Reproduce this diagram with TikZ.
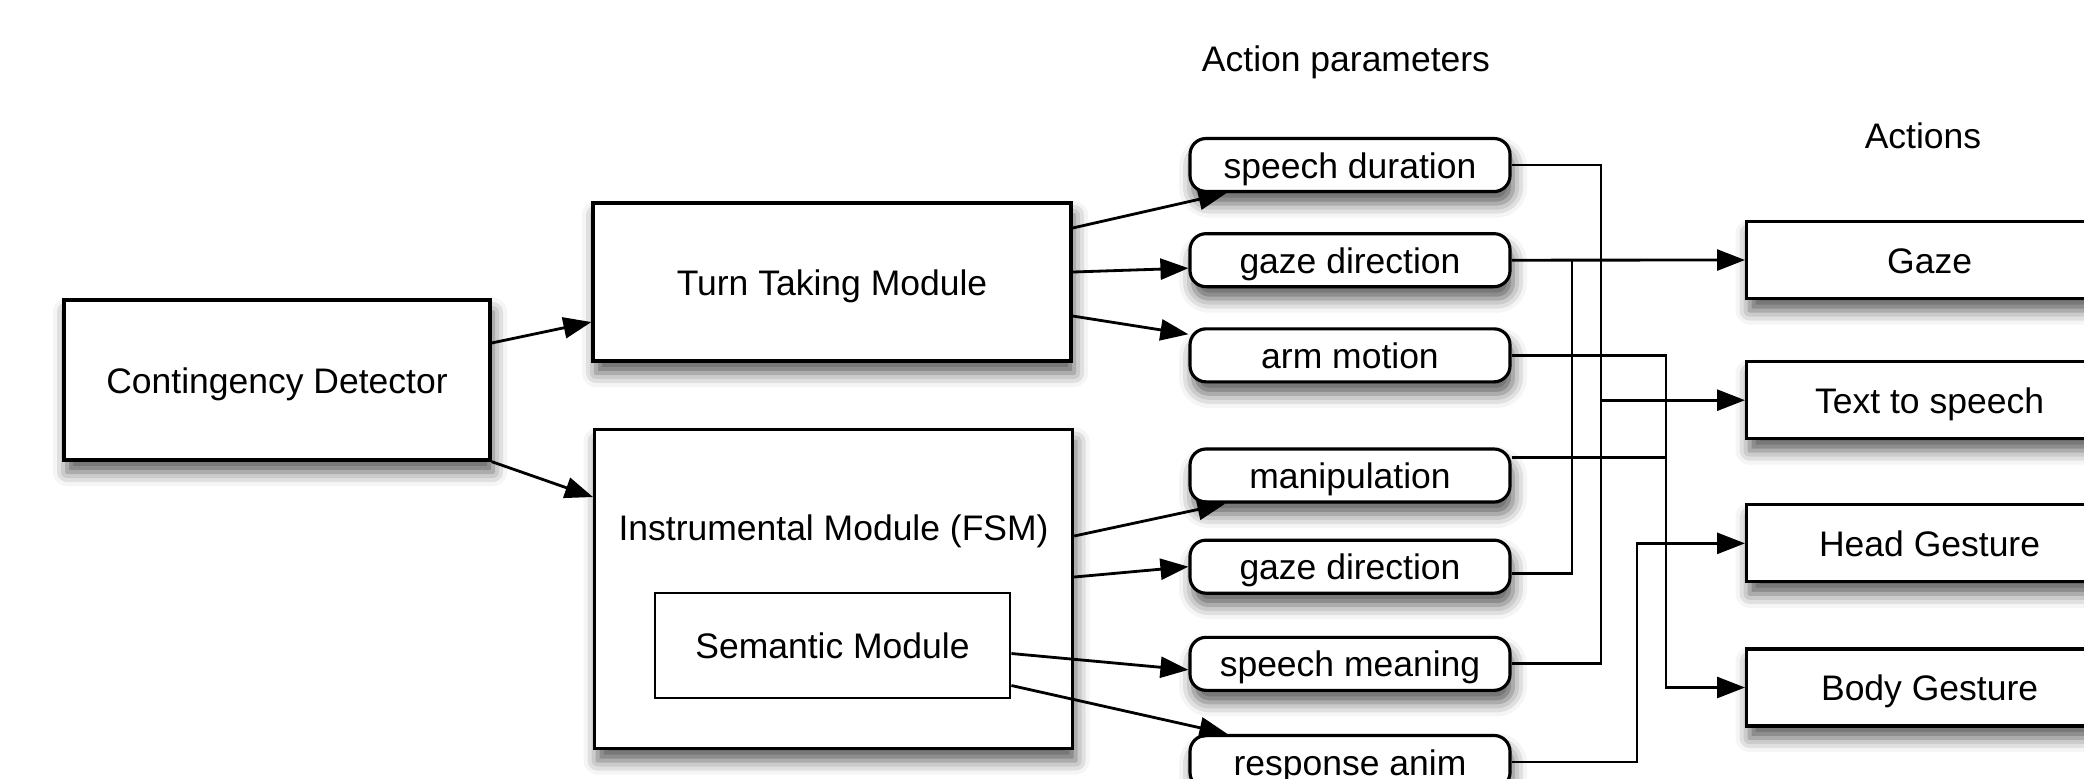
\documentclass[tikz,border=0pt]{standalone}
\usepackage{fontspec}
\setmainfont{Liberation Sans}
\usepackage{tikz}
\usetikzlibrary{positioning,arrows.meta,calc,shadows.blur}

\begin{document}
\begin{tikzpicture}[
  font=\fontsize{10.1pt}{12pt}\selectfont,
  node distance=3.9mm and 3mm,
  shade/.style={blur shadow={shadow xshift=0.3mm, shadow yshift=-1.2mm, shadow blur radius=1.4mm, shadow opacity=65}},
  box/.style={draw=black, line width=0.9pt, fill=white, inner sep=0pt, align=center, text height=0.95em, text depth=0.21em, shade},
  plainbox/.style={draw=black, line width=0.8pt, fill=white, inner sep=0pt, align=center, text height=0.95em, text depth=0.21em},
  parambox/.style={box, rounded corners=1.6mm, minimum width=3.2cm, minimum height=5.3mm},
  actbox/.style={box, minimum width=3.66cm, minimum height=7.7mm},
  arr/.style={-{Triangle[length=2.8mm, width=2.1mm]}, draw=black, line width=0.8pt},
  line/.style={draw=black, line width=0.8pt}
]
\useasboundingbox (0,0) rectangle (20.84,-7.78);

% modules
\node[box, minimum width=4.26cm, minimum height=1.6cm] (cd) at (2.77,-3.80) {Contingency Detector};
\node[box, minimum width=4.78cm, minimum height=1.58cm] (tt) at (8.32,-2.82) {Turn Taking Module};
\node[box, minimum width=4.78cm, text height=1.11cm, text depth=2.08cm, anchor=north west] (im) at (5.93,-4.28) {Instrumental Module (FSM)};
\node[plainbox, minimum width=3.55cm, minimum height=1.05cm] (sm) at (8.325,-6.455) {Semantic Module};

% action parameters
\node (aplabel) at (13.46,-0.62) {Action parameters};
\node[parambox] (sd) at (13.50,-1.65) {speech duration};
\node[parambox, below=of sd] (gz1) {gaze direction};
\node[parambox, below=of gz1] (arm) {arm motion};
\node[parambox, below=6.4mm of arm] (man) {manipulation};
\node[parambox, below=3.5mm of man] (gz2) {gaze direction};
\node[parambox, below=4.1mm of gz2] (smean) {speech meaning};
\node[parambox, below=4.2mm of smean] (resp) {response anim};

% actions
\node (actlabel) at (19.23,-1.36) {Actions};
\node[actbox, anchor=west] (gaze) at (17.45,-2.60) {Gaze};
\node[actbox, below=6.0mm of gaze] (tts) {Text to speech};
\node[actbox, below=6.3mm of tts] (head) {Head Gesture};
\node[actbox, below=6.4mm of head] (body) {Body Gesture};

% bus columns
\coordinate (busgz) at (15.72,0);
\coordinate (bustts) at (16.01,0);
\coordinate (busresp) at (16.37,0);
\coordinate (busbody) at (16.66,0);
\coordinate (manout) at ([yshift=1.8mm]man.east);

\draw[arr] ([yshift=3.7mm]cd.east) -- ([yshift=-4mm]tt.west);
\draw[arr] (cd.south east) -- ([yshift=-6.9mm]im.north west);
\draw[arr] ([yshift=5.4mm]tt.east) -- ([xshift=3.8mm]sd.south west);
\draw[arr] ([yshift=1mm]tt.east) -- ([yshift=-0.8mm]gz1.west);
\draw[arr] ([yshift=-3.4mm]tt.east) -- ([yshift=-0.7mm]arm.north west);
\draw[arr] (im.east |- 0,-5.36) -- ([xshift=3.7mm]man.south west);
\draw[arr] (im.east |- 0,-5.77) -- (gz2.west);
\draw[arr] ([yshift=-0.8mm]sm.east) -- ([yshift=-0.6mm]smean.west);
\draw[arr] ([yshift=-4mm]sm.east) -- ([xshift=3.9mm]resp.north west);

\draw[arr] (gz1.east) -- (gaze.west);
\draw[line] (busgz |- gz1.east) |- ([yshift=-0.7mm]gz2.east);
\draw[line] (sd.east) -| (bustts |- smean.east) -- (smean.east);
\draw[arr] (bustts |- tts.west) -- (tts.west);
\draw[arr] (arm.east) -| (busbody |- body.west) -- (body.west);
\draw[line] (manout) -- (busbody |- manout);
\draw[arr] (resp.east) -| (busresp |- head.west) -- (head.west);
\end{tikzpicture}
\end{document}
